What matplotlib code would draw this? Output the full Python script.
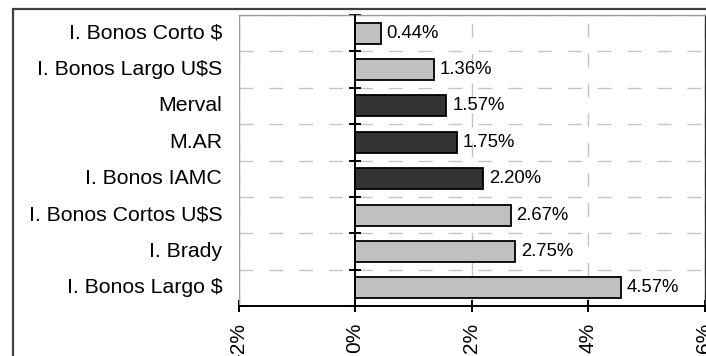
import numpy as np
import matplotlib.pyplot as plt
from matplotlib.patches import Rectangle

plt.rcParams['font.family'] = ['Liberation Sans', 'DejaVu Sans']

categories = ['I. Bonos Corto $', 'I. Bonos Largo U$S', 'Merval', 'M.AR',
              'I. Bonos IAMC', 'I. Bonos Cortos U$S', 'I. Brady', 'I. Bonos Largo $']
values = [0.44, 1.36, 1.57, 1.75, 2.20, 2.67, 2.75, 4.57]
dark = [False, False, True, True, True, False, False, False]
xticks = [-2, 0, 2, 4, 6]
xticklabels = ['-2%', '0%', '2%', '4%', '6%']

fig = plt.figure(figsize=(7.06, 3.56), dpi=100)
ax = fig.add_axes([238.5 / 706, 1 - 306 / 356, 466 / 706, 291 / 356])

# outer chart frame (cut off at right/bottom like the original)
fig.patches.append(Rectangle((12.5 / 706, -0.1), 1.0, 1 - 9 / 356 + 0.1,
                             transform=fig.transFigure, fill=False,
                             edgecolor='#404040', linewidth=1.6))

y = np.arange(len(categories))
colors = ['#333333' if d else '#c0c0c0' for d in dark]
ax.barh(y, values, height=0.58, color=colors, edgecolor='black', linewidth=1.3, zorder=3)

for yi, v in zip(y, values):
    ax.text(v + 0.1, yi, f'{v:.2f}%', va='center', ha='left', fontsize=13.3, zorder=4)

ax.set_xlim(-2, 6)
ax.set_ylim(len(categories) - 0.5, -0.5)

# grid
ax.set_xticks(xticks)
ax.set_xticklabels(xticklabels, rotation=90, fontsize=15)
ax.set_yticks(np.arange(len(categories) + 1) - 0.5)
ax.set_yticklabels([])
ax.grid(True, color='#c4c4c4', linewidth=1.0, linestyle=(0, (10, 11.5)), zorder=0)
ax.set_axisbelow(True)

# category labels
for yi, c in zip(y, categories):
    ax.text(-0.035, yi, c, transform=ax.get_yaxis_transform(), ha='right', va='center',
            fontsize=15.3)

# spines
ax.spines['left'].set_position(('data', 0))
ax.spines['left'].set_linewidth(1.4)
ax.spines['left'].set_zorder(5)
ax.spines['bottom'].set_linewidth(1.4)
ax.spines['top'].set_color('#999999')
ax.spines['top'].set_linewidth(1.0)
ax.spines['right'].set_color('#333333')
ax.spines['right'].set_linewidth(1.0)
ax.axvline(-2, color='#999999', linewidth=1.0, zorder=1)

ax.tick_params(axis='y', direction='inout', length=8, width=1.4)
ax.tick_params(axis='x', direction='inout', length=8, width=1.4, pad=8)

fig.savefig('out.png', dpi=100)
